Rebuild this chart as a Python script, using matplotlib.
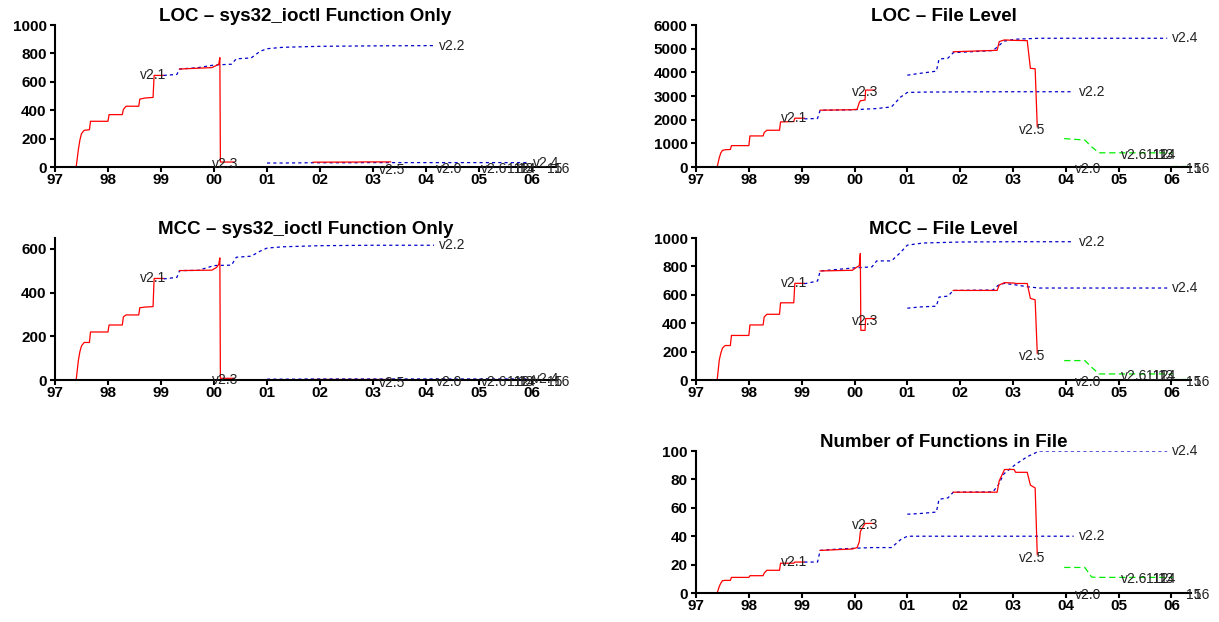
import numpy as np
import matplotlib.pyplot as plt

plt.rcParams['font.family'] = ['Liberation Sans', 'DejaVu Sans']

nan = np.nan

# release dates of each kernel series (decimal years)
v21_dates = [1997.40, 1997.44, 1997.47, 1997.50, 1997.55, 1997.65, 1997.67, 1998.00, 1998.02,
             1998.27, 1998.29, 1998.34, 1998.58, 1998.60, 1998.70, 1998.85, 1998.87, 1999.05]
v22_dates = [1999.05, 1999.30, 1999.35, 1999.70, 2000.00, 2000.33, 2000.42, 2000.70, 2000.87,
             2001.00, 2001.30, 2002.00, 2003.00, 2004.15]
v23_dates = [1999.35, 1999.96, 2000.05, 2000.09, 2000.11, 2000.12, 2000.20, 2000.21, 2000.38]
v24_dates = [2001.00, 2001.25, 2001.55, 2001.60, 2001.77, 2001.87, 2002.62, 2002.72, 2002.83,
             2003.05, 2003.27, 2003.50, 2005.92]
v25_dates = [2001.87, 2002.70, 2002.74, 2002.84, 2003.02, 2003.05, 2003.27, 2003.33, 2003.42, 2003.46]
v26_dates = [2003.97, 2004.36, 2004.49, 2004.63, 2006.03]
v26_late_dates = [2006.02, 2006.35]

# LOC - sys32_ioctl function only
loc_fn_v21 = [0, 120, 190, 235, 258, 263, 322, 322, 369, 369, 405, 428, 428, 478, 486, 490, 645, 645]
loc_fn_v22 = [645, 652, 690, 700, 718, 724, 762, 768, 815, 833, 843, 850, 853, 855]
loc_fn_v23 = [690, 700, 716, 725, 770, 35, 35, 35, 35]
loc_fn_v24 = [28, 28, 29, 29, 30, 30, 30, 30, 31, 31, 31, 31, 31]
loc_fn_v25 = [34, 35, 35, 36, 36, 36, 36, 36, nan, 0]

# LOC - whole file
loc_file_v21 = [0, 400, 600, 700, 730, 740, 904, 904, 1313, 1313, 1455, 1553, 1553, 1906, 1910, 1920, 2062, 2062]
loc_file_v22 = [2034, 2050, 2400, 2410, 2420, 2460, 2470, 2540, 2950, 3150, 3165, 3175, 3180, 3180]
loc_file_v23 = [2400, 2420, 2440, 2720, 2800, 2800, 2830, 3250, 3250]
loc_file_v24 = [3880, 3960, 4050, 4560, 4600, 4830, 4920, 5100, 5320, 5400, 5420, 5440, 5440]
loc_file_v25 = [4870, 4930, 5300, 5370, 5350, 5350, 5340, 4170, 4150, 1700]
loc_file_v26 = [1200, 1140, 850, 600, 600]
loc_file_v26_late = [40, 40]

# MCC - sys32_ioctl function only
mcc_fn_v21 = [0, 88, 130, 156, 172, 172, 220, 220, 252, 252, 289, 298, 298, 331, 334, 336, 465, 465]
mcc_fn_v22 = [463, 470, 501, 502, 524, 526, 562, 567, 590, 604, 610, 615, 617, 617]
mcc_fn_v23 = [501, 503, 516, 530, 559, 8, 8, 8, 8]
mcc_fn_v24 = [4, 4, 4, 4, 5, 5, 5, 5, 5, 5, 5, 5, 5]
mcc_fn_v25 = [7, 7, 7, 7, 7, 7, 7, 7, nan, 0]
mcc_fn_v26_late = [2, 2]

# MCC - whole file
mcc_file_v21 = [0, 142, 190, 225, 243, 243, 314, 314, 388, 388, 444, 463, 463, 544, 544, 544, 681, 681]
mcc_file_v22 = [678, 697, 768, 780, 790, 797, 839, 839, 898, 950, 965, 972, 974, 974]
mcc_file_v23 = [768, 773, 797, 805, 891, 350, 350, 433, 433]
mcc_file_v24 = [506, 515, 520, 584, 591, 631, 634, 667, 681, 670, 657, 648, 648]
mcc_file_v25 = [631, 631, 669, 686, 683, 680, 680, 575, 565, 189]
mcc_file_v26 = [137, 137, 90, 43, 43]
mcc_file_v26_late = [6, 6]

# number of functions in file
nfunc_v21 = [0, 4.7, 7, 8.7, 8.9, 8.9, 11, 11, 12.2, 12.2, 14, 16, 16, 21, 21, 21, 21.8, 21.8]
nfunc_v22 = [21.8, 21.8, 30, 31, 31.5, 32, 32, 32, 37.5, 40, 40, 40, 40, 40]
nfunc_v23 = [30, 31, 32, 36, 43, 44, 49, 49, 49]
nfunc_v24 = [55.5, 56, 57, 66, 67, 71, 71.2, 76, 84, 90.6, 96, 100, 100]
nfunc_v25 = [71, 71, 79, 87, 87, 85, 85, 76, 74, 27]
nfunc_v26 = [18, 18, 11.2, 11, 11]
nfunc_v26_late = [0.3, 0.3]

# extra tags written along the bottom of every panel
v26_tags = ['v2.6', '11', '12', '13', '14']
v26_tag_dates = [2005.04, 2005.52, 2005.66, 2005.74, 2005.78]
late_tags = ['15', '16']
late_tag_dates = [2006.28, 2006.42]
v20_tag_date = 2004.18

year_ticks = list(range(1997, 2007))
year_labels = ['%02d' % (y % 100) for y in year_ticks]

RED = dict(color='#ff0000', lw=0.9, ls='-')
BLUE = dict(color='#0000cc', lw=0.9, ls=(0, (2.5, 2.5)))
GREEN = dict(color='#00ee00', lw=0.9, ls=(0, (5, 3)))
TXT = dict(fontsize=10, color='#222222', textcoords='offset pixels', va='center',
           annotation_clip=False)


def LastPoint(dates, values):
    return dates[-1], values[-1]


def DrawPanel(ax, title, v21, v22, v23, v24, v25, v26, v26_late, ylim, ystep, xmax):
    ax.plot(v21_dates, v21, **RED)
    ax.plot(v22_dates, v22, **BLUE)
    ax.plot(v23_dates, v23, **RED)
    ax.plot(v24_dates, v24, **BLUE)
    ax.plot(v25_dates, v25, **RED)
    if v26 is not None:
        ax.plot(v26_dates, v26, **GREEN)
    if v26_late is not None:
        ax.plot(v26_late_dates, v26_late, **GREEN)

    # version tags at the end of each series
    ax.annotate('v2.1', LastPoint(v21_dates, v21), xytext=(3, 0), ha='right', **TXT)
    ax.annotate('v2.2', LastPoint(v22_dates, v22), xytext=(5, 0), ha='left', **TXT)
    ax.annotate('v2.3', LastPoint(v23_dates, v23), xytext=(4, -2), ha='right', **TXT)
    ax.annotate('v2.4', LastPoint(v24_dates, v24), xytext=(5, 0), ha='left', **TXT)
    ax.annotate('v2.5', LastPoint(v25_dates, v25), xytext=(-5, -3), ha='center', **TXT)
    ax.annotate('v2.0', (v20_tag_date, 0), xytext=(0, -2), ha='left', **TXT)
    y26 = v26[-1] if v26 is not None else 0
    for tag, d in zip(v26_tags, v26_tag_dates):
        ax.annotate(tag, (d, y26), xytext=(0, -2), ha='left', **TXT)
    for tag, d in zip(late_tags, late_tag_dates):
        ax.annotate(tag, (d, 0), xytext=(0, -2), ha='left', **TXT)

    ax.set_title(title, fontsize=13.5, fontweight='bold', pad=1.5)
    ax.set_xlim(1997, xmax)
    ax.set_ylim(0, ylim)
    ax.set_xticks(year_ticks)
    ax.set_xticklabels(year_labels)
    ax.set_yticks(np.arange(0, ylim + 1, ystep))
    for side in ['top', 'right']:
        ax.spines[side].set_visible(False)
    for side in ['left', 'bottom']:
        ax.spines[side].set_linewidth(1.5)
    ax.tick_params(axis='both', direction='out', length=3.5, width=1.5, labelsize=11)
    ax.tick_params(axis='x', pad=1)
    ax.tick_params(axis='y', pad=2.5)
    for lbl in ax.get_xticklabels() + ax.get_yticklabels():
        lbl.set_fontweight('bold')


fig = plt.figure(figsize=(12.19, 6.22), dpi=100)
h = 0.2283
left_x, left_w = 0.0451, 0.411
right_x, right_w = 0.571, 0.406
rows = [0.7315, 0.389, 0.0466]

ax = fig.add_axes([left_x, rows[0], left_w, h])
DrawPanel(ax, 'LOC \u2013 sys32_ioctl Function Only', loc_fn_v21, loc_fn_v22, loc_fn_v23,
          loc_fn_v24, loc_fn_v25, None, None, 1000, 200, 2006.45)

ax = fig.add_axes([right_x, rows[0], right_w, h])
DrawPanel(ax, 'LOC \u2013 File Level', loc_file_v21, loc_file_v22, loc_file_v23,
          loc_file_v24, loc_file_v25, loc_file_v26, loc_file_v26_late, 6000, 1000, 2006.37)

ax = fig.add_axes([left_x, rows[1], left_w, h])
DrawPanel(ax, 'MCC \u2013 sys32_ioctl Function Only', mcc_fn_v21, mcc_fn_v22, mcc_fn_v23,
          mcc_fn_v24, mcc_fn_v25, None, mcc_fn_v26_late, 650, 200, 2006.45)

ax = fig.add_axes([right_x, rows[1], right_w, h])
DrawPanel(ax, 'MCC \u2013 File Level', mcc_file_v21, mcc_file_v22, mcc_file_v23,
          mcc_file_v24, mcc_file_v25, mcc_file_v26, mcc_file_v26_late, 1000, 200, 2006.37)

ax = fig.add_axes([right_x, rows[2], right_w, h])
DrawPanel(ax, 'Number of Functions in File', nfunc_v21, nfunc_v22, nfunc_v23,
          nfunc_v24, nfunc_v25, nfunc_v26, nfunc_v26_late, 100, 20, 2006.37)

fig.savefig('out.png', dpi=100)
